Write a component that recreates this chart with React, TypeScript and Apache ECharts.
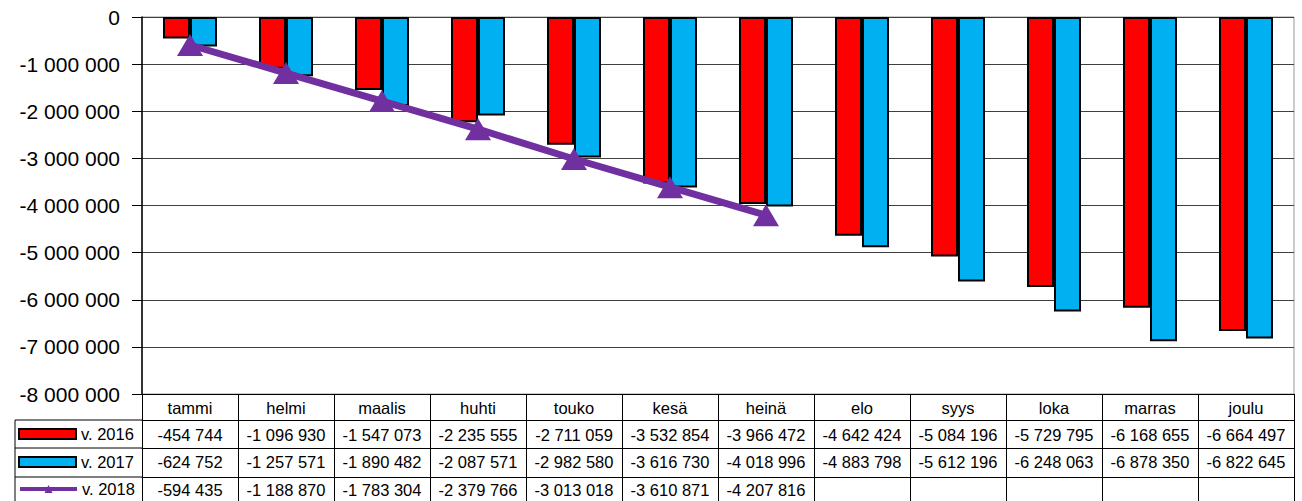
import React, { useEffect, useRef } from 'react';
import * as echarts from 'echarts';

const categories = ['tammi', 'helmi', 'maalis', 'huhti', 'touko', 'kesä', 'heinä', 'elo', 'syys', 'loka', 'marras', 'joulu'];
const seriesNames = ['v. 2016', 'v. 2017', 'v. 2018'];
const values2016 = [-454744, -1096930, -1547073, -2235555, -2711059, -3532854, -3966472, -4642424, -5084196, -5729795, -6168655, -6664497];
const values2017 = [-624752, -1257571, -1890482, -2087571, -2982580, -3616730, -4018996, -4883798, -5612196, -6248063, -6878350, -6822645];
const values2018 = [-594435, -1188870, -1783304, -2379766, -3013018, -3610871, -4207816];
const yMin = -8000000;
const yMax = 0;
const yStep = 1000000;

const FONT = "'Liberation Sans', Arial, sans-serif";

const fmt = (v: number | null | undefined): string => {
  if (v === null || v === undefined) return '';
  const s = Math.abs(Math.round(v)).toString().replace(/\B(?=(\d{3})+(?!\d))/g, ' ');
  return (v < 0 ? '-' : '') + s;
};

const rowText = (vals: number[]) => categories.map((_, i) => fmt(vals[i]));

const rowAxis = (data: string[], offset: number, tickLen: number, margin: number) => ({
  type: 'category',
  data,
  position: 'bottom',
  offset,
  gridIndex: 0,
  boundaryGap: true,
  axisLine: { show: true, onZero: false, lineStyle: { color: '#000', width: 1 } },
  axisTick: { show: true, interval: 0, alignWithLabel: false, length: tickLen, lineStyle: { color: '#000', width: 1 } },
  axisLabel: { show: true, interval: 0, margin, fontSize: 16.5, lineHeight: 17, color: '#000', fontFamily: FONT },
  splitLine: { show: false },
});

const legendRow = (name: string, top: number, icon?: string) => ({
  orient: 'horizontal',
  left: 18,
  top,
  padding: 0,
  itemWidth: 57,
  itemHeight: 10,
  selectedMode: false,
  lineStyle: { width: 4 },
  textStyle: { fontSize: 16.5, lineHeight: 17, color: '#000', fontFamily: FONT },
  data: [icon ? { name, icon } : { name }],
});

export default function App() {
  const ref = useRef<HTMLDivElement>(null);
  useEffect(() => {
    if (!ref.current) return;
    const chart = echarts.init(ref.current, undefined, { renderer: 'svg' });
    const option = {
      animation: false,
      backgroundColor: '#fff',
      textStyle: { fontFamily: FONT },
      grid: { left: 142, right: 8, top: 17, bottom: 107, show: true, borderColor: '#999', borderWidth: 1, backgroundColor: 'transparent' },
      legend: [
        legendRow(seriesNames[0], 425.5, 'rect'),
        legendRow(seriesNames[1], 453.5, 'rect'),
        legendRow(seriesNames[2], 480.5),
      ],
      xAxis: [
        rowAxis(categories, 0, 26, 5),
        rowAxis(rowText(values2016), 26, 28, 6),
        rowAxis(rowText(values2017), 54, 29, 5),
        rowAxis(rowText(values2018), 83, 30, 4),
      ],
      yAxis: {
        type: 'value',
        min: yMin,
        max: yMax,
        interval: yStep,
        axisLine: { show: true, lineStyle: { color: '#000', width: 1.5 } },
        axisTick: { show: true, length: 10, lineStyle: { color: '#000', width: 1 } },
        axisLabel: { margin: 22, fontSize: 21, color: '#000', fontFamily: FONT, formatter: (v: number) => fmt(v) },
        splitLine: { show: true, lineStyle: { color: '#404040', width: 1 } },
      },
      series: [
        {
          name: seriesNames[0],
          type: 'bar',
          xAxisIndex: 0,
          data: values2016,
          barWidth: 27,
          barGap: '0%',
          itemStyle: { color: '#FF0000', borderColor: '#000', borderWidth: 2 },
        },
        {
          name: seriesNames[1],
          type: 'bar',
          xAxisIndex: 0,
          data: values2017,
          barWidth: 27,
          barGap: '0%',
          itemStyle: { color: '#00B0F0', borderColor: '#000', borderWidth: 2 },
        },
        {
          name: seriesNames[2],
          type: 'line',
          xAxisIndex: 0,
          data: values2018,
          symbol: 'triangle',
          symbolSize: [26, 22],
          z: 5,
          lineStyle: { width: 7, color: '#7030A0' },
          itemStyle: { color: '#7030A0' },
        },
      ],
      graphic: [
        { type: 'line', shape: { x1: 15, y1: 420, x2: 142, y2: 420 }, style: { stroke: '#000', lineWidth: 1 } },
        { type: 'line', shape: { x1: 15, y1: 448, x2: 142, y2: 448 }, style: { stroke: '#000', lineWidth: 1 } },
        { type: 'line', shape: { x1: 15, y1: 477, x2: 142, y2: 477 }, style: { stroke: '#000', lineWidth: 1 } },
        { type: 'line', shape: { x1: 15, y1: 420, x2: 15, y2: 501 }, style: { stroke: '#000', lineWidth: 1 } },
      ],
    };
    chart.setOption(option as any);
    return () => chart.dispose();
  }, []);
  return <div ref={ref} style={{ position: 'absolute', left: 0, top: 0, width: 1302, height: 501 }} />;
}
